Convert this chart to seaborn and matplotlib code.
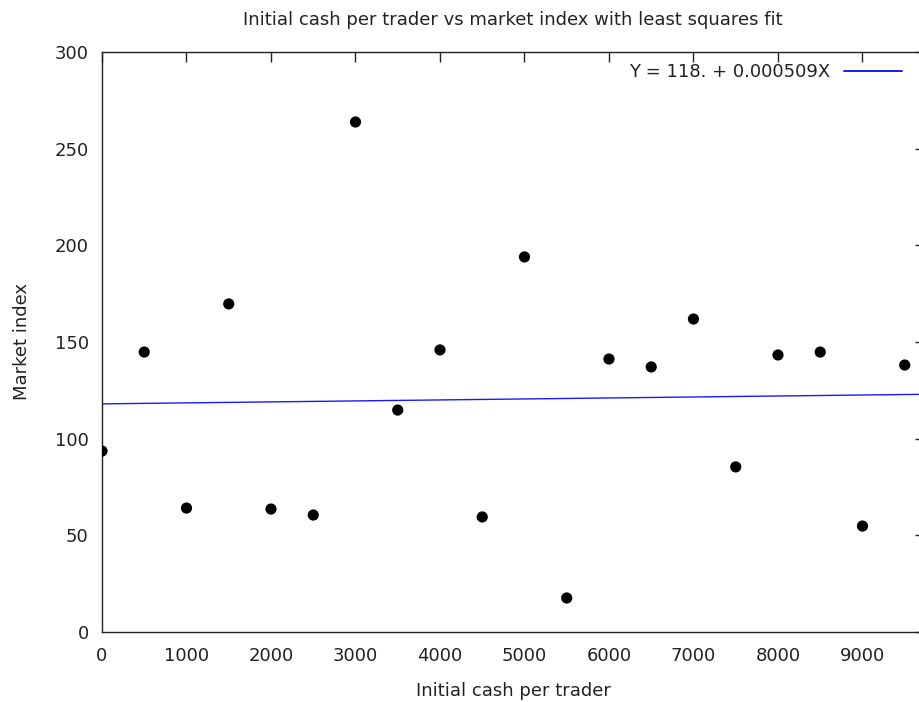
import numpy as np
import pandas as pd
import matplotlib
matplotlib.use('Agg')
import matplotlib.pyplot as plt
import seaborn as sns

# values
cash = [0, 500, 1000, 1500, 2000, 2500, 3000, 3500, 4000, 4500,
        5000, 5500, 6000, 6500, 7000, 7500, 8000, 8500, 9000, 9500]
index = [93.6, 144.8, 64.1, 169.7, 63.6, 60.5, 263.8, 114.8, 145.9, 59.5,
         194.0, 17.6, 141.2, 137.1, 161.9, 85.4, 143.3, 144.8, 54.8, 138.1]
intercept = 118.0
slope = 0.000509
x_max = 9740

sns.set_theme(style='white')
plt.rcParams['font.family'] = ['DejaVu Sans']
fs = 13

df = pd.DataFrame({'cash': cash, 'index': index})
fit = pd.DataFrame({'cash': [0, x_max]})
fit['index'] = intercept + slope * fit['cash']

fig = plt.figure(figsize=(9.2, 7.02), dpi=100)
W, H = 920, 702
ax = fig.add_axes([102 / W, (H - 632) / H, (925 - 102) / W, (632 - 52) / H])

sns.lineplot(data=fit, x='cash', y='index', ax=ax, color='#1a1aff', linewidth=1.0,
             label='Y = 118. + 0.000509X')
sns.scatterplot(data=df, x='cash', y='index', ax=ax, color='black', s=65,
                edgecolor='none', zorder=3, legend=False)

ax.set_xlim(0, x_max)
ax.set_ylim(0, 300)
ax.set_xticks(np.arange(0, 9001, 1000))
ax.set_yticks(np.arange(0, 301, 50))
ax.tick_params(direction='in', length=7, width=1, top=True, right=True,
               labelsize=fs, colors='#222222')
ax.tick_params(axis='x', pad=11)
ax.tick_params(axis='y', pad=9.5)
for s in ax.spines.values():
    s.set_color('#222222')
    s.set_linewidth(1)
ax.spines['right'].set_visible(False)

ax.set_xlabel('Initial cash per trader', fontsize=fs, color='#222222', labelpad=12)
ax.set_ylabel('Market index', fontsize=fs, color='#222222', labelpad=17)
fig.text(513 / W, 1 - 20 / H, 'Initial cash per trader vs market index with least squares fit',
         ha='center', va='center', fontsize=fs, color='#222222')

leg = ax.legend(loc='upper right', frameon=False, markerfirst=False,
                fontsize=fs, handlelength=3.2, handletextpad=0.78,
                bbox_to_anchor=(0.985, 1.0), borderaxespad=0.2)
for t in leg.get_texts():
    t.set_color('#222222')
for ln in leg.get_lines():
    ln.set_linewidth(1.4)

fig.savefig('out.png', dpi=100)
